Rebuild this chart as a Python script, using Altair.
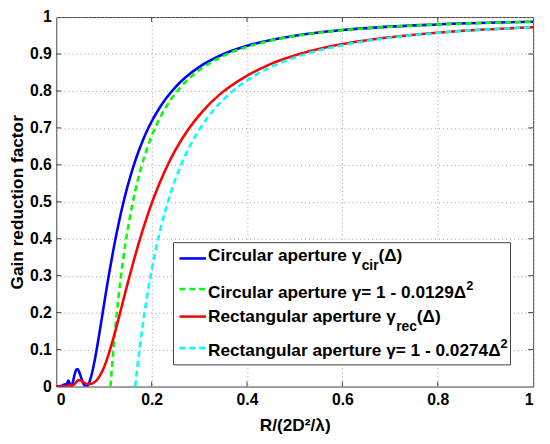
import altair as alt
import pandas as pd

# ---- data ----
blue_r = [0.0, 0.01, 0.0125, 0.0139, 0.0156, 0.017, 0.019, 0.0208, 0.0225, 0.025, 0.0275, 0.03, 0.03125,
          0.0325, 0.035, 0.0375, 0.04, 0.0425, 0.045, 0.0475, 0.05, 0.0525, 0.055, 0.0575, 0.06, 0.0625,
          0.065, 0.0675, 0.07, 0.075, 0.08, 0.085, 0.09, 0.095, 0.1, 0.105, 0.11, 0.12, 0.13, 0.14, 0.15,
          0.16, 0.17, 0.18, 0.19, 0.2, 0.21, 0.23, 0.25, 0.27, 0.3, 0.35, 0.4, 0.5, 0.6, 0.8, 1.0]
blue_v = [0.0, 0.0013, 0.0, 0.0050, 0.0, 0.0054, 0.0058, 0.0, 0.0054, 0.0162, 0.0112, 0.0016, 0.0,
          0.0016, 0.0124, 0.0274, 0.0399, 0.0465, 0.0464, 0.0410, 0.0324, 0.0227, 0.0135, 0.0062, 0.0016, 0.0,
          0.0016, 0.0063, 0.0139, 0.0365, 0.0668, 0.1024, 0.1408, 0.1810, 0.2214, 0.2613, 0.2997, 0.3719,
          0.4367, 0.4942, 0.5445, 0.5887, 0.6275, 0.6611, 0.6915, 0.7173, 0.7404, 0.7796, 0.8106, 0.8357,
          0.8651, 0.8994, 0.9222, 0.9496, 0.9648, 0.9801, 0.9872]

green_r = [0.1136, 0.12, 0.13, 0.14, 0.15, 0.16, 0.17, 0.18, 0.19, 0.2, 0.22, 0.24, 0.26, 0.28, 0.3,
           0.35, 0.4, 0.45, 0.5, 0.6, 0.7, 0.8, 0.9, 1.0]
green_v = [0.0, 0.1042, 0.2367, 0.3418, 0.4267, 0.4961, 0.5536, 0.6019, 0.6427, 0.6775, 0.7335, 0.7760,
           0.8092, 0.8355, 0.8567, 0.8947, 0.9194, 0.9363, 0.9484, 0.9642, 0.9737, 0.9798, 0.9841, 0.9871]

red_r = [0.0, 0.0156, 0.0216, 0.0244, 0.0278, 0.0297, 0.0319, 0.0343, 0.0370, 0.04, 0.0434, 0.0473,
         0.0517, 0.0567, 0.0625, 0.0693, 0.0772, 0.0865, 0.0977, 0.1111, 0.1189, 0.1276, 0.1372, 0.1479,
         0.16, 0.1736, 0.189, 0.2066, 0.2268, 0.25, 0.277, 0.3086, 0.346, 0.3906, 0.4444, 0.5102, 0.5917,
         0.6944, 0.8264, 1.0]
red_v = [0.0, 0.0007, 0.0011, 0.0031, 0.0046, 0.0033, 0.0023, 0.0024, 0.0045, 0.0090, 0.0144, 0.0174,
         0.0160, 0.0118, 0.0079, 0.0067, 0.0094, 0.0198, 0.0448, 0.0926, 0.1269, 0.1683, 0.2164, 0.2704,
         0.3290, 0.3910, 0.4547, 0.5184, 0.5808, 0.6405, 0.6963, 0.7477, 0.7941, 0.8343, 0.8701, 0.8998,
         0.9248, 0.9446, 0.9604, 0.9725]

cyan_r = [0.1655, 0.17, 0.18, 0.19, 0.2, 0.21, 0.22, 0.23, 0.24, 0.26, 0.28, 0.3, 0.33, 0.36, 0.4,
          0.45, 0.5, 0.6, 0.7, 0.8, 0.9, 1.0]
cyan_v = [0.0, 0.0519, 0.1543, 0.2410, 0.3150, 0.3787, 0.4339, 0.4820, 0.5243, 0.5947, 0.6505, 0.6956,
          0.7484, 0.7886, 0.8288, 0.8647, 0.8904, 0.9239, 0.9441, 0.9572, 0.9662, 0.9726]

x_ticks = [0, 0.2, 0.4, 0.6, 0.8, 1]
y_ticks = [0, 0.1, 0.2, 0.3, 0.4, 0.5, 0.6, 0.7, 0.8, 0.9, 1]

legend_texts = ["Circular aperture γ", "cir", "(Δ)",
                "Circular aperture γ= 1 - 0.0129Δ", "2",
                "Rectangular aperture γ", "rec", "(Δ)",
                "Rectangular aperture γ= 1 - 0.0274Δ", "2"]

# ---- layout constants ----
W, H = 484, 375
FONT = "Liberation Sans"

xs = alt.Scale(domain=[0, 1], nice=False)
ys = alt.Scale(domain=[0, 1], nice=False)

x_axis = alt.Axis(values=x_ticks, format=".1~f", title="R/(2D²/λ)",
                  titleX=W / 2, titleY=40, titleBaseline="middle", titleAlign="center")
y_axis = alt.Axis(values=y_ticks, format=".1~f", title="Gain reduction factor",
                  titleX=-34, titleY=H / 2, titleAngle=270, titleBaseline="alphabetic",
                  titleAlign="center")


def curve(r, v, color, dash=None):
    df = pd.DataFrame({"r": r, "v": v})
    kw = dict(color=color, strokeWidth=2.6, clip=True, interpolate="monotone")
    if dash:
        kw["strokeDash"] = dash
    return alt.Chart(df).mark_line(**kw).encode(
        x=alt.X("r:Q", scale=xs, axis=x_axis),
        y=alt.Y("v:Q", scale=ys, axis=y_axis),
    )


blue = curve(blue_r, blue_v, "#0000ff")
green = curve(green_r, green_v, "#00ff00", [6, 4])
red = curve(red_r, red_v, "#ff0000")
cyan = curve(cyan_r, cyan_v, "#00ffff", [6, 4])

# inward tick marks on all four sides
xt = pd.DataFrame({"t": x_ticks[1:-1]})
yt = pd.DataFrame({"t": y_ticks[1:-1]})
tick_style = dict(color="#404040", strokeWidth=1)
xt_bot = alt.Chart(xt).mark_rule(**tick_style).encode(
    x=alt.X("t:Q", scale=xs, axis=x_axis), y=alt.value(H), y2=alt.value(H - 5))
xt_top = alt.Chart(xt).mark_rule(**tick_style).encode(
    x=alt.X("t:Q", scale=xs, axis=x_axis), y=alt.value(0), y2=alt.value(5))
yt_left = alt.Chart(yt).mark_rule(**tick_style).encode(
    y=alt.Y("t:Q", scale=ys, axis=y_axis), x=alt.value(0), x2=alt.value(5))
yt_right = alt.Chart(yt).mark_rule(**tick_style).encode(
    y=alt.Y("t:Q", scale=ys, axis=y_axis), x=alt.value(W), x2=alt.value(W - 5))

# ---- custom legend ----
one = pd.DataFrame({"a": [0]})
box = alt.Chart(one).mark_rect(fill="white", stroke="#404040", strokeWidth=1).encode(
    x=alt.value(119), x2=alt.value(461), y=alt.value(229), y2=alt.value(353))

sw_y = [245, 276, 304, 336]
leg_lines = []
for k, (col, dash) in enumerate([("#0000ff", None), ("#00ff00", [6, 4]),
                                  ("#ff0000", None), ("#00ffff", [6, 4])]):
    kw = dict(color=col, strokeWidth=2.6)
    if dash:
        kw["strokeDash"] = dash
    leg_lines.append(alt.Chart(one).mark_rule(**kw).encode(
        x=alt.value(125), x2=alt.value(152), y=alt.value(sw_y[k])))

lt = pd.DataFrame({
    "text": legend_texts,
    "px": [154, 310, 327, 154, 416, 154, 345, 366, 154, 451],
    "py": [248, 257, 248, 285, 277, 310, 319, 310, 344, 336],
    "fs": [17.5, 14, 17.5, 17.5, 13, 17.5, 14, 17.5, 17.5, 13],
})
leg_text = alt.Chart(lt).mark_text(align="left", baseline="alphabetic", font=FONT,
                                   fontWeight="bold", color="black").encode(
    x=alt.X("px:Q", scale=None), y=alt.Y("py:Q", scale=None),
    text="text:N", size=alt.Size("fs:Q", scale=None))

chart = alt.layer(
    blue, green, red, cyan,
    xt_bot, xt_top, yt_left, yt_right,
    box, *leg_lines, leg_text,
).properties(
    width=W, height=H,
    autosize=alt.AutoSizeParams(type="none"),
    padding={"left": 49, "top": 6, "right": 9, "bottom": 47},
    background="white",
).configure_view(
    stroke="#404040", strokeWidth=1,
).configure_axis(
    labelFont=FONT, labelFontSize=16, labelFontWeight="bold", labelColor="black",
    titleFont=FONT, titleFontSize=17.5, titleFontWeight="bold", titleColor="black",
    grid=True, gridColor="#9a9a9a", gridDash=[1, 3], gridWidth=1,
    domain=False, ticks=False, labelPadding=5,
)

chart.save("out.html", embed_options={"renderer": "svg", "actions": False})
